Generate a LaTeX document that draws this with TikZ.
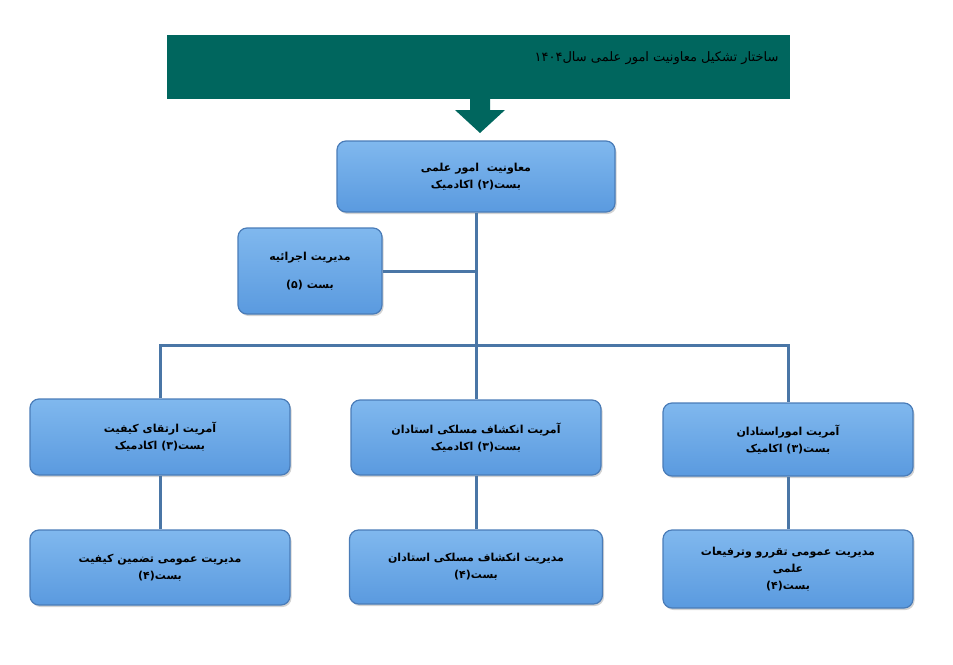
\documentclass[tikz,border=0pt]{standalone}
\usepackage{fontspec}
\usetikzlibrary{shadows}
\newfontfamily\arabicfont[Script=Arabic]{DejaVu Sans}
\TeXXeTstate=1
\newcommand{\fa}[1]{\beginR #1\endR}
\definecolor{teal1}{HTML}{00665E}
\definecolor{boxtop}{HTML}{80B8EE}
\definecolor{boxbot}{HTML}{5A9ADF}
\definecolor{boxedge}{HTML}{4A7CB8}
\definecolor{linec}{HTML}{4A76A6}
\tikzset{
 box/.style={draw=boxedge, line width=1.2pt, rounded corners=9pt, top color=boxtop, bottom color=boxbot,
   drop shadow={shadow xshift=1.5pt,shadow yshift=-2pt,opacity=.35}, align=center,
   font=\arabicfont\bfseries\fontsize{11}{17}\selectfont, inner sep=0pt},
 conn/.style={draw=linec, line width=3pt}
}
\begin{document}
\begin{tikzpicture}[x=1pt,y=-1pt]
\useasboundingbox (0,0) rectangle (953,664);
\node[fill=teal1, minimum width=623pt, minimum height=64pt, inner sep=0pt] (banner) at (478.5,67) {};
\node[anchor=east, font=\arabicfont\fontsize{13}{15}\selectfont, text=black] (title) at (782,58) {\fa{ساختار تشکیل معاونیت امور علمی سال۱۴۰۴}};
\fill[teal1] (470,99) -- (490,99) -- (490,110) -- (505,110) -- (480,133) -- (455,110) -- (470,110) -- cycle;
\coordinate (arrowtip) at (480,133);

\node[box, minimum width=278pt, minimum height=71pt] (top) at (476,176.5) {\fa{معاونیت\ \ امور علمی}\\\fa{بست(۲) اکادمیک}};
\node[box, minimum width=144pt, minimum height=86pt, font=\arabicfont\bfseries\fontsize{11}{28}\selectfont] (exec) at (310,271) {\fa{مدیریت اجرائیه}\\\fa{بست (۵)}};

\node[box, minimum width=260pt, minimum height=76pt] (a2) at (160,437) {\fa{آمریت ارتقای کیفیت}\\\fa{بست(۳) اکادمیک}};
\node[box, minimum width=250pt, minimum height=75pt] (b2) at (476,437.5) {\fa{آمریت انکشاف مسلکی استادان}\\\fa{بست(۳) اکادمیک}};
\node[box, minimum width=250pt, minimum height=73pt] (c2) at (788,439.5) {\fa{آمریت اموراستادان}\\\fa{بست(۳) اکامیک}};

\node[box, minimum width=260pt, minimum height=75pt] (a3) at (160,567.5) {\fa{مدیریت عمومی تضمین کیفیت}\\\fa{بست(۴)}};
\node[box, minimum width=253pt, minimum height=74pt] (b3) at (476,567) {\fa{مدیریت انکشاف مسلکی استادان}\\\fa{بست(۴)}};
\node[box, minimum width=250pt, minimum height=78pt] (c3) at (788,569) {\fa{مدیریت عمومی تقررو وترفیعات}\\\fa{علمی}\\\fa{بست(۴)}};

\coordinate (bar) at (476,345);
\begin{scope}[on background layer/.try]
\end{scope}
\draw[conn] (top.south) -- (bar);
\draw[conn] (exec.east) -- (exec.east -| top.south);
\draw[conn] (a2.north) -- (a2.north |- bar) -- (c2.north |- bar) -- (c2.north);
\draw[conn] (bar) -- (b2.north);
\draw[conn] (a2.south) -- (a3.north);
\draw[conn] (b2.south) -- (b3.north);
\draw[conn] (c2.south) -- (c3.north);
\end{tikzpicture}
\end{document}
